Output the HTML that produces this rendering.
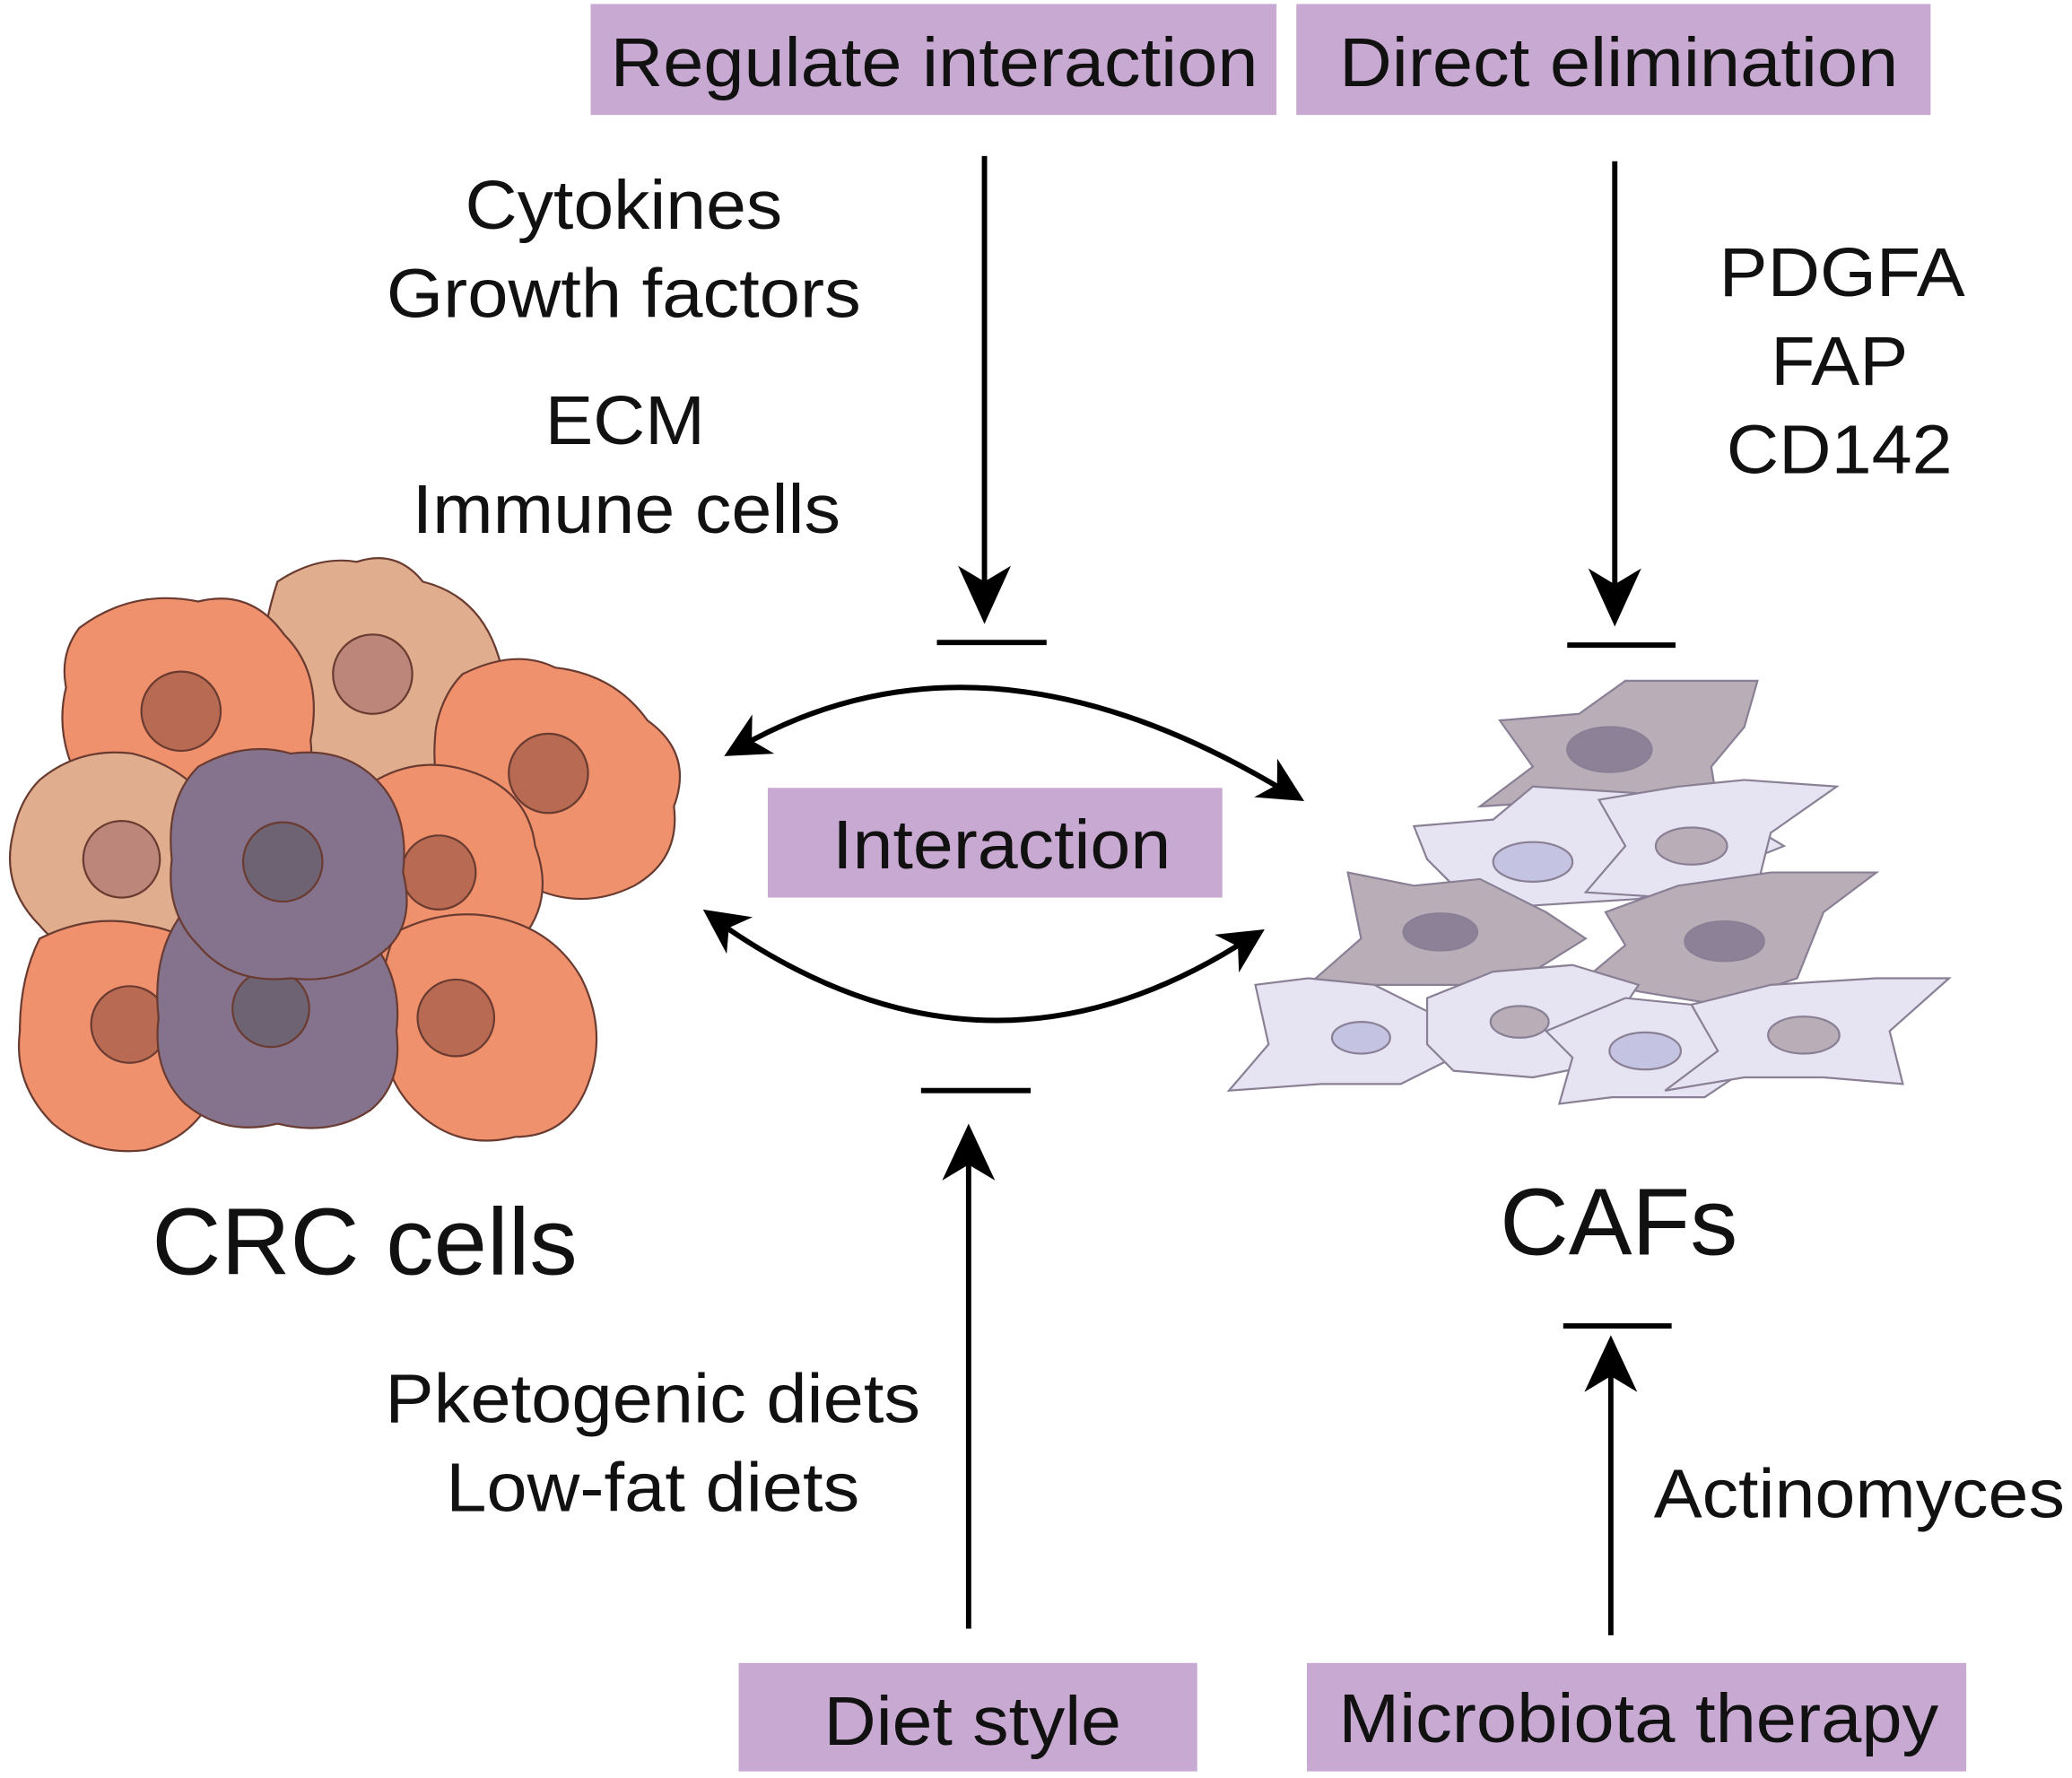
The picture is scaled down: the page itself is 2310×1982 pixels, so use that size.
<!DOCTYPE html>
<html><head><meta charset="utf-8"><style>
html,body{margin:0;padding:0;background:#fff}
svg{display:block}
text{font-family:"Liberation Sans",Arial,sans-serif;fill:#111}
</style></head><body>
<svg width="2310" height="1982" viewBox="0 0 1568 1345" preserveAspectRatio="none" xmlns="http://www.w3.org/2000/svg">
<g fill="#c8a9d1">
<rect x="447" y="3" width="519" height="84"/>
<rect x="981" y="3" width="480" height="84"/>
<rect x="581" y="596" width="344" height="83"/>
<rect x="559" y="1258" width="347" height="82"/>
<rect x="989" y="1258" width="499" height="82"/>
</g>
<g font-size="52" text-anchor="middle" lengthAdjust="spacingAndGlyphs">
<text x="707" y="65" textLength="490" lengthAdjust="spacingAndGlyphs">Regulate interaction</text>
<text x="1225" y="65" textLength="423" lengthAdjust="spacingAndGlyphs">Direct elimination</text>
<text x="758" y="657" textLength="256" lengthAdjust="spacingAndGlyphs">Interaction</text>
<text x="736" y="1320" textLength="225" lengthAdjust="spacingAndGlyphs">Diet style</text>
<text x="1240" y="1318" textLength="454" lengthAdjust="spacingAndGlyphs">Microbiota therapy</text>
<text x="472" y="173" textLength="240" lengthAdjust="spacingAndGlyphs">Cytokines</text>
<text x="472" y="240" textLength="359" lengthAdjust="spacingAndGlyphs">Growth factors</text>
<text x="473" y="336" textLength="121" lengthAdjust="spacingAndGlyphs">ECM</text>
<text x="474" y="403" textLength="324" lengthAdjust="spacingAndGlyphs">Immune cells</text>
<text x="1394" y="224" textLength="186" lengthAdjust="spacingAndGlyphs">PDGFA</text>
<text x="1392" y="291" textLength="104" lengthAdjust="spacingAndGlyphs">FAP</text>
<text x="1392" y="358" textLength="171" lengthAdjust="spacingAndGlyphs">CD142</text>
<text x="494" y="1076" textLength="405" lengthAdjust="spacingAndGlyphs">Pketogenic diets</text>
<text x="494" y="1143" textLength="313" lengthAdjust="spacingAndGlyphs">Low-fat diets</text>
<text x="1407" y="1148" textLength="311" lengthAdjust="spacingAndGlyphs">Actinomyces</text>
</g>
<text x="276" y="964" font-size="72" text-anchor="middle" textLength="322" lengthAdjust="spacingAndGlyphs">CRC cells</text>
<text x="1225" y="949" font-size="72" text-anchor="middle" textLength="180" lengthAdjust="spacingAndGlyphs">CAFs</text>
<g stroke="#000" stroke-width="4" fill="none">
<line x1="745" y1="118" x2="745" y2="450"/>
<line x1="709" y1="486" x2="792" y2="486"/>
<line x1="1222" y1="122" x2="1222" y2="452"/>
<line x1="1186" y1="488" x2="1268" y2="488"/>
<line x1="733" y1="1232" x2="733" y2="870"/>
<line x1="697" y1="825" x2="780" y2="825"/>
<line x1="1219" y1="1237" x2="1219" y2="1030"/>
<line x1="1183" y1="1003" x2="1265" y2="1003"/>
<path d="M560,565 Q745,460 975,600"/>
<path d="M543,697 Q745,840 945,710"/>
</g>
<g fill="#000">
<path d="M725,428 L745,472 L765,428 L745,440 Z"/>
<path d="M1202,430 L1222,474 L1242,430 L1222,442 Z"/>
<path d="M713,893 L733,850 L753,893 L733,881 Z"/>
<path d="M1199,1053 L1219,1010 L1239,1053 L1219,1041 Z"/>
<g transform="translate(548,572) rotate(150.6)"><path d="M0,0 L-34,-17 L-24,0 L-34,17Z"/></g>
<g transform="translate(987,606) rotate(31)"><path d="M0,0 L-34,-17 L-24,0 L-34,17Z"/></g>
<g transform="translate(532,688) rotate(215.3)"><path d="M0,0 L-34,-17 L-24,0 L-34,17Z"/></g>
<g transform="translate(957,703) rotate(-32.7)"><path d="M0,0 L-34,-17 L-24,0 L-34,17Z"/></g>
</g>
<g stroke="#6a3b30" stroke-width="1.5">
<path d="M210,440 Q240,420 270,425 Q300,415 320,440 Q360,450 375,490 Q390,530 370,560 Q360,600 320,600 Q280,620 245,600 Q205,590 205,550 Q190,500 210,440Z" fill="#e0ae8e"/>
<circle cx="282" cy="510" r="30" fill="#bd867b"/>
<path d="M60,475 Q100,445 150,455 Q190,445 215,480 Q245,510 235,560 Q240,600 205,620 Q170,640 130,630 Q85,640 65,600 Q40,560 50,520 Q45,495 60,475Z" fill="#f0916e"/>
<circle cx="137" cy="538" r="30" fill="#b86a52"/>
<path d="M350,510 Q390,490 420,505 Q465,510 490,545 Q525,570 510,610 Q515,650 480,670 Q440,690 400,670 Q355,665 340,625 Q325,590 330,550 Q335,525 350,510Z" fill="#f0916e"/>
<circle cx="415" cy="585" r="30" fill="#b86a52"/>
<path d="M30,590 Q60,565 100,570 Q140,580 160,610 Q180,650 160,690 Q140,725 100,725 Q55,730 30,700 Q0,670 10,630 Q15,605 30,590Z" fill="#e0ae8e"/>
<circle cx="92" cy="650" r="29" fill="#bd867b"/>
<path d="M285,590 Q320,570 360,585 Q400,600 405,640 Q420,680 395,710 Q370,740 330,735 Q290,740 275,705 Q255,670 265,635 Q270,605 285,590Z" fill="#f0916e"/>
<circle cx="332" cy="660" r="28" fill="#b86a52"/>
<path d="M30,710 Q70,690 110,700 Q150,705 165,740 Q185,780 165,820 Q150,860 110,870 Q70,875 40,850 Q10,820 15,780 Q15,740 30,710Z" fill="#f0916e"/>
<circle cx="98" cy="775" r="29" fill="#b86a52"/>
<path d="M300,705 Q340,685 380,695 Q420,705 440,740 Q460,780 445,820 Q430,860 390,860 Q350,870 320,845 Q290,820 290,780 Q285,735 300,705Z" fill="#f0916e"/>
<circle cx="345" cy="770" r="29" fill="#b86a52"/>
<path d="M135,695 Q170,675 210,685 Q250,690 280,710 Q305,740 300,780 Q305,820 280,840 Q250,860 210,850 Q170,860 140,835 Q115,810 120,770 Q115,725 135,695Z" fill="#85728c"/>
<circle cx="205" cy="763" r="29" fill="#6e6373"/>
<path d="M150,580 Q185,560 220,570 Q260,565 285,590 Q310,615 305,660 Q315,700 290,720 Q260,745 220,740 Q175,745 150,715 Q125,690 130,650 Q125,605 150,580Z" fill="#85728c"/>
<circle cx="214" cy="652" r="30" fill="#6e6373"/>
</g>
<g stroke="#8a8096" stroke-width="1.5">
<path d="M1135,545 L1195,540 L1230,515 L1330,515 L1320,550 L1295,580 L1300,610 L1200,605 L1120,610 L1160,580 Z" fill="#b9adb8"/>
<ellipse cx="1218" cy="567" rx="32" ry="17" fill="#8d8198"/>
<path d="M1070,625 L1130,620 L1160,595 L1240,600 L1300,610 L1350,640 L1300,660 L1240,680 L1160,685 L1100,670 L1080,650 Z" fill="#e6e4f2"/>
<ellipse cx="1160" cy="652" rx="30" ry="15" fill="#c5c3e2"/>
<path d="M1210,605 L1270,595 L1320,590 L1390,595 L1340,630 L1330,670 L1280,680 L1200,675 L1230,640 Z" fill="#e6e4f2"/>
<ellipse cx="1280" cy="640" rx="27" ry="14" fill="#b9adb8"/>
<path d="M1020,660 L1070,670 L1120,665 L1170,690 L1200,710 L1160,735 L1120,745 L1040,745 L990,745 L1030,710 Z" fill="#b9adb8"/>
<ellipse cx="1090" cy="705" rx="28" ry="14" fill="#8d8198"/>
<path d="M1215,690 L1270,670 L1340,660 L1420,660 L1380,690 L1360,740 L1300,760 L1240,750 L1200,740 L1230,715 Z" fill="#b9adb8"/>
<ellipse cx="1305" cy="712" rx="30" ry="15" fill="#8d8198"/>
<path d="M950,745 L990,740 L1040,745 L1080,765 L1100,800 L1060,820 L1000,820 L930,825 L960,790 Z" fill="#e6e4f2"/>
<ellipse cx="1030" cy="785" rx="22" ry="12" fill="#c5c3e2"/>
<path d="M1080,755 L1130,735 L1190,730 L1240,745 L1220,775 L1210,805 L1160,815 L1100,810 L1080,790 Z" fill="#e6e4f2"/>
<ellipse cx="1150" cy="773" rx="22" ry="12" fill="#b9adb8"/>
<path d="M1170,780 L1230,755 L1280,760 L1340,775 L1320,810 L1290,830 L1220,830 L1180,835 L1190,800 Z" fill="#e6e4f2"/>
<ellipse cx="1245" cy="795" rx="27" ry="14" fill="#c5c3e2"/>
<path d="M1280,760 L1340,745 L1420,740 L1475,740 L1430,780 L1440,820 L1380,815 L1320,815 L1260,825 L1300,795 Z" fill="#e6e4f2"/>
<ellipse cx="1365" cy="783" rx="27" ry="14" fill="#b9adb8"/>
</g>
</svg>
</body></html>
